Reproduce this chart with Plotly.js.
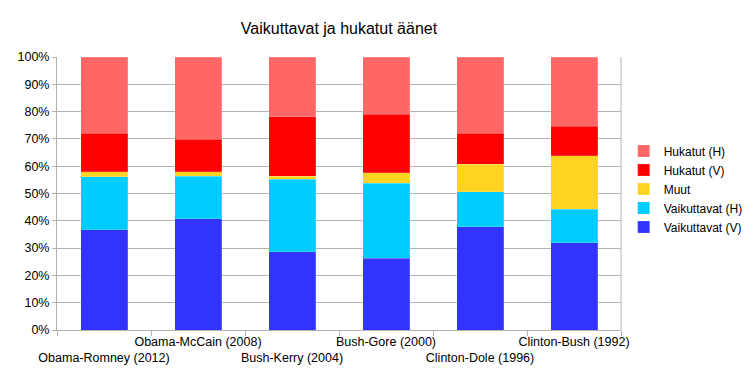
<!DOCTYPE html>
<html><head><meta charset="utf-8">
<script src="https://cdn.plot.ly/plotly-3.0.1.min.js"></script>
<style>html,body{margin:0;padding:0;background:#fff}</style>
</head><body>
<div id="chart" style="width:756px;height:378px"></div>
<script>
const categories = ["Obama-Romney (2012)", "Obama-McCain (2008)", "Bush-Kerry (2004)", "Bush-Gore (2000)", "Clinton-Dole (1996)", "Clinton-Bush (1992)"];
const vaikuttavatV = [36.7, 40.7, 28.7, 26.2, 37.8, 32.0];
const vaikuttavatH = [19.5, 15.7, 26.6, 27.6, 12.9, 12.3];
const muut = [1.7, 1.5, 1.0, 3.8, 10.1, 19.6];
const hukatutV = [14.2, 12.0, 21.8, 21.4, 11.3, 10.8];
const hukatutH = [27.9, 30.1, 21.9, 21.0, 27.9, 25.3];
const yTicks = [0,10,20,30,40,50,60,70,80,90,100];

const tickText = categories.map((c, i) => i % 2 === 0 ? "<br>" + c : c);

function tr(name, y, color) {
  return {type: "bar", name: name, x: categories, y: y,
    marker: {color: color, line: {color: "rgba(255,255,255,0.35)", width: 0.5}},
    hoverinfo: "name+y"};
}
const data = [
  tr("Vaikuttavat (V)", vaikuttavatV, "#3333ff"),
  tr("Vaikuttavat (H)", vaikuttavatH, "#00ccff"),
  tr("Muut", muut, "#ffd320"),
  tr("Hukatut (V)", hukatutV, "#ff0000"),
  tr("Hukatut (H)", hukatutH, "#ff6666")
];
const layout = {
  width: 756, height: 378,
  margin: {l: 57, r: 135, t: 57, b: 48},
  paper_bgcolor: "#fff", plot_bgcolor: "#fff",
  font: {family: "Liberation Sans, Arial, sans-serif", size: 12.5, color: "#000"},
  title: {text: "Vaikuttavat ja hukatut äänet", x: 0.5, xref: "paper", y: 0.925, yanchor: "middle",
    font: {size: 16, color: "#000"}},
  barmode: "stack", bargap: 0.5,
  showlegend: true,
  legend: {traceorder: "reversed", xref: "container", yref: "container",
    x: 0.825, xanchor: "left", y: 0.5, yanchor: "middle",
    font: {size: 12}, itemwidth: 30, tracegroupgap: 0},
  xaxis: {type: "category", tickmode: "array", tickvals: categories, ticktext: tickText,
    tickson: "boundaries", ticks: "outside", ticklen: 5, tickcolor: "#b3b3b3",
    showline: true, linecolor: "#b3b3b3", linewidth: 1, mirror: false,
    showgrid: false, tickangle: 0, automargin: false, fixedrange: true},
  yaxis: {range: [0, 100], tickmode: "array", tickvals: yTicks,
    ticktext: yTicks.map(v => v + "%"),
    ticks: "outside", ticklen: 4, tickcolor: "#b3b3b3",
    showgrid: true, gridcolor: "#b3b3b3", gridwidth: 1,
    showline: true, linecolor: "#b3b3b3", mirror: false, zeroline: false,
    automargin: false, fixedrange: true},
  shapes: [{type: "line", xref: "paper", yref: "paper", x0: 1, x1: 1, y0: 0, y1: 1,
    line: {color: "#b3b3b3", width: 1}}]
};
Plotly.newPlot("chart", data, layout, {displayModeBar: false, staticPlot: true});
</script>
</body></html>
